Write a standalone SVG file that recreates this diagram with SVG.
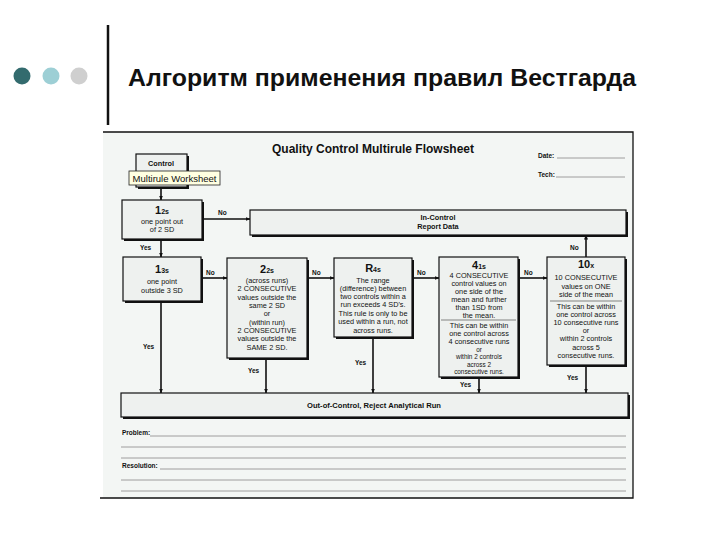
<svg xmlns="http://www.w3.org/2000/svg" width="720" height="540" viewBox="0 0 720 540">
<style>
text{font-family:"Liberation Sans",Arial,sans-serif;fill:#111}
.t{font-size:7.3px;text-anchor:middle}
.s{font-size:6.4px;text-anchor:middle}
.b{font-weight:bold}
.lbl{font-size:6.5px;font-weight:bold}
.big{font-size:11px;font-weight:bold}
.sub{font-size:7px;font-weight:bold}
.box{fill:#eef1ef;stroke:#111;stroke-width:1.2}
.sh{fill:#111}
.con{stroke:#111;stroke-width:1.6;fill:none;marker-end:url(#ah)}
.ln{stroke:#888;stroke-width:0.8}
</style>
<defs>
<marker id="ah" viewBox="0 0 10 10" refX="9" refY="5" markerWidth="5" markerHeight="5" orient="auto" markerUnits="userSpaceOnUse">
<path d="M0,1 L10,5 L0,9 z" fill="#111"/>
</marker>
</defs>
<rect width="720" height="540" fill="#fff"/>
<g id="header">
<circle cx="22" cy="76" r="8.5" fill="#336b6e"/>
<circle cx="51" cy="76" r="8.5" fill="#9dcfd5"/>
<circle cx="79" cy="76" r="8.5" fill="#cfcfcf"/>
<line x1="108" y1="25" x2="108" y2="125" stroke="#111" stroke-width="2.5"/>
<text x="128" y="86" textLength="508" lengthAdjust="spacingAndGlyphs" style="font-size:23px;font-weight:bold">Алгоритм применения правил Вестгарда</text>
</g>
<g id="sheet">
<rect x="103" y="132" width="530" height="366" fill="#f3f6f4"/>
<polyline points="103,132 633,132 633,498 100,498" fill="none" stroke="#111" stroke-width="1.3"/>
<text x="373" y="153" style="font-size:12px;font-weight:bold;text-anchor:middle">Quality Control Multirule Flowsheet</text>
<text x="538" y="158" class="lbl">Date:</text>
<line x1="557" y1="158" x2="625" y2="158" class="ln"/>
<text x="538" y="177" class="lbl">Tech:</text>
<line x1="556" y1="177" x2="625" y2="177" class="ln"/>
<text x="122" y="435" class="lbl">Problem:</text>
<line x1="150" y1="436" x2="626" y2="436" class="ln"/>
<line x1="121" y1="447" x2="626" y2="447" class="ln"/>
<line x1="121" y1="458" x2="626" y2="458" class="ln"/>
<text x="122" y="468" class="lbl">Resolution:</text>
<line x1="160" y1="469" x2="626" y2="469" class="ln"/>
<line x1="121" y1="480" x2="626" y2="480" class="ln"/>
<line x1="121" y1="491" x2="626" y2="491" class="ln"/>
</g>
<g id="connectors">
<line x1="161" y1="185" x2="161" y2="200" class="con"/>
<line x1="202" y1="219" x2="250" y2="219" class="con"/>
<line x1="161" y1="239" x2="161" y2="257" class="con"/>
<line x1="201" y1="278" x2="227" y2="278" class="con"/>
<line x1="307" y1="278" x2="334" y2="278" class="con"/>
<line x1="412" y1="278" x2="439" y2="278" class="con"/>
<line x1="518" y1="278" x2="547" y2="278" class="con"/>
<line x1="586" y1="257" x2="586" y2="235" class="con"/>
<line x1="161" y1="301" x2="161" y2="393" class="con"/>
<line x1="266" y1="358" x2="266" y2="393" class="con"/>
<line x1="373" y1="337" x2="373" y2="393" class="con"/>
<line x1="479" y1="377" x2="479" y2="393" class="con"/>
<line x1="586" y1="365" x2="586" y2="393" class="con"/>
<text x="218" y="215" class="lbl">No</text>
<text x="140" y="250" class="lbl">Yes</text>
<text x="206" y="275" class="lbl">No</text>
<text x="312" y="275" class="lbl">No</text>
<text x="417" y="275" class="lbl">No</text>
<text x="524" y="275" class="lbl">No</text>
<text x="570" y="250" class="lbl">No</text>
<text x="143" y="349" class="lbl">Yes</text>
<text x="248" y="373" class="lbl">Yes</text>
<text x="355" y="365" class="lbl">Yes</text>
<text x="460" y="387" class="lbl">Yes</text>
<text x="567" y="380" class="lbl">Yes</text>
</g>
<g id="control">
<rect x="138" y="156" width="51" height="33" class="sh"/>
<rect x="136" y="154" width="51" height="33" class="box"/>
<text x="161" y="166" class="t b">Control</text>
</g>
<g id="worksheet-label">
<rect x="129" y="171" width="91" height="14" fill="#ffffe1" stroke="#222" stroke-width="0.8"/>
<text x="174.5" y="182" style="font-size:9.5px;text-anchor:middle;font-family:'Liberation Sans Narrow','Liberation Sans',sans-serif">Multirule Worksheet</text>
</g>
<g id="rule-12s">
<rect x="124" y="202" width="80" height="39" class="sh"/>
<rect x="122" y="200" width="80" height="39" class="box"/>
<text x="162" y="214" class="t"><tspan class="big">1</tspan><tspan class="sub">2s</tspan></text>
<text x="162" y="224" class="t">one point out</text>
<text x="162" y="232" class="t">of 2 SD</text>
</g>
<g id="in-control">
<rect x="252" y="212" width="376" height="25" class="sh"/>
<rect x="250" y="210" width="376" height="25" class="box"/>
<text x="438" y="220" class="t b">In-Control</text>
<text x="438" y="229" class="t b">Report Data</text>
</g>
<g id="rule-13s">
<rect x="125" y="259" width="78" height="44" class="sh"/>
<rect x="123" y="257" width="78" height="44" class="box"/>
<text x="162" y="273" class="t"><tspan class="big">1</tspan><tspan class="sub">3s</tspan></text>
<text x="162" y="284" class="t">one point</text>
<text x="162" y="293" class="t">outside 3 SD</text>
</g>
<g id="rule-22s">
<rect x="229" y="260" width="80" height="100" class="sh"/>
<rect x="227" y="258" width="80" height="100" class="box"/>
<text x="267" y="273" class="t"><tspan class="big">2</tspan><tspan class="sub">2s</tspan></text>
<text x="267" y="283" class="t">(across runs)</text>
<text x="267" y="291" class="t">2 CONSECUTIVE</text>
<text x="267" y="300" class="t">values outside the</text>
<text x="267" y="308" class="t">same 2 SD</text>
<text x="267" y="316" class="t">or</text>
<text x="267" y="325" class="t">(within run)</text>
<text x="267" y="333" class="t">2 CONSECUTIVE</text>
<text x="267" y="341" class="t">values outside the</text>
<text x="267" y="350" class="t">SAME 2 SD.</text>
</g>
<g id="rule-r4s">
<rect x="336" y="260" width="78" height="79" class="sh"/>
<rect x="334" y="258" width="78" height="79" class="box"/>
<text x="373" y="272" class="t"><tspan class="big">R</tspan><tspan class="sub">4s</tspan></text>
<text x="373" y="283" class="t">The range</text>
<text x="373" y="291" class="t">(difference) between</text>
<text x="373" y="299" class="t">two controls within a</text>
<text x="373" y="307" class="t">run exceeds 4 SD's.</text>
<text x="373" y="316" class="t">This rule is only to be</text>
<text x="373" y="324" class="t">used within a run, not</text>
<text x="373" y="333" class="t">across runs.</text>
</g>
<g id="rule-41s">
<rect x="441" y="259" width="79" height="120" class="sh"/>
<rect x="439" y="257" width="79" height="120" class="box"/>
<text x="479" y="269" class="t"><tspan class="big">4</tspan><tspan class="sub">1s</tspan></text>
<text x="479" y="278" class="t">4 CONSECUTIVE</text>
<text x="479" y="286" class="t">control values on</text>
<text x="479" y="294" class="t">one side of the</text>
<text x="479" y="302" class="t">mean and further</text>
<text x="479" y="310" class="t">than 1SD from</text>
<text x="479" y="318" class="t">the mean.</text>
<line x1="441" y1="320" x2="516" y2="320" stroke="#555" stroke-width="0.7"/>
<text x="479" y="328" class="t">This can be within</text>
<text x="479" y="336" class="t">one control across</text>
<text x="479" y="344" class="t">4 consecutive runs</text>
<text x="479" y="351.5" class="s">or</text>
<text x="479" y="359" class="s">within 2 controls</text>
<text x="479" y="366.5" class="s">across 2</text>
<text x="479" y="374" class="s">consecutive runs.</text>
</g>
<g id="rule-10x">
<rect x="549" y="259" width="78" height="108" class="sh"/>
<rect x="547" y="257" width="78" height="108" class="box"/>
<text x="586" y="268" class="t"><tspan class="big">10</tspan><tspan class="sub">x</tspan></text>
<text x="586" y="280" class="t">10 CONSECUTIVE</text>
<text x="586" y="289" class="t">values on ONE</text>
<text x="586" y="297" class="t">side of the mean</text>
<line x1="550" y1="301" x2="622" y2="301" stroke="#555" stroke-width="0.7"/>
<text x="586" y="309" class="t">This can be within</text>
<text x="586" y="317" class="t">one control across</text>
<text x="586" y="325" class="t">10 consecutive runs</text>
<text x="586" y="333" class="t">or</text>
<text x="586" y="341" class="t">within 2 controls</text>
<text x="586" y="350" class="t">across 5</text>
<text x="586" y="358" class="t">consecutive runs.</text>
</g>
<g id="out-of-control">
<rect x="123" y="395" width="507" height="24" class="sh"/>
<rect x="121" y="393" width="507" height="24" class="box"/>
<text x="374" y="408" class="t b" style="font-size:7.6px">Out-of-Control, Reject Analytical Run</text>
</g>
</svg>
